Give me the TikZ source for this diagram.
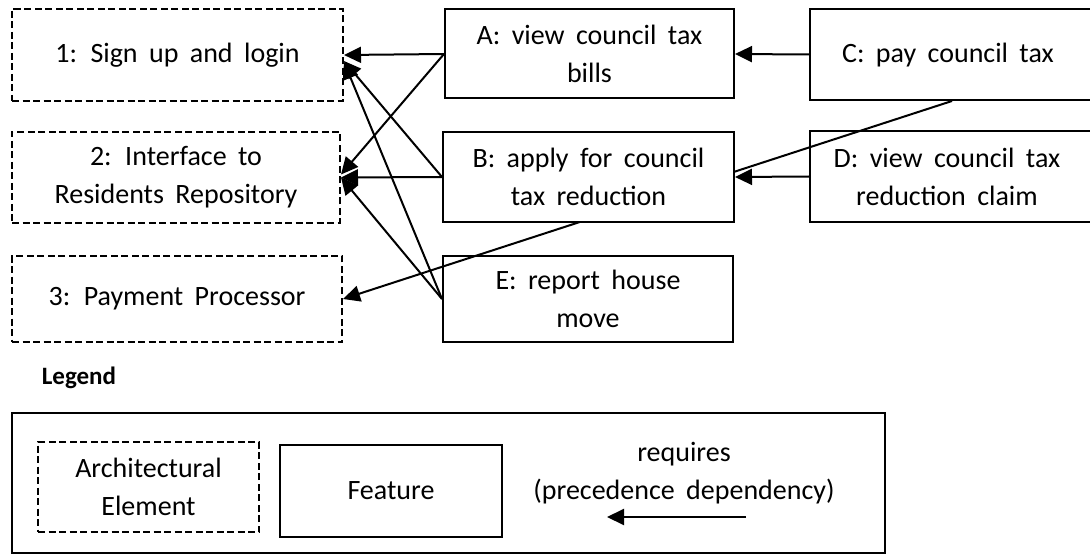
\documentclass[tikz,border=0pt]{standalone}
\usepackage{fontspec}
\setmainfont{Carlito}[WordSpace=1.8]
\usetikzlibrary{arrows.meta,backgrounds}
\begin{document}
\begin{tikzpicture}[x=1pt,y=-1pt,
  every node/.style={font=\fontsize{28}{38}\selectfont, align=center, inner sep=0pt},
  arch/.style={draw, line width=2pt, dash pattern=on 7pt off 3.5pt},
  feat/.style={draw, line width=2pt},
  arr/.style={line width=2pt, -{Triangle[length=17pt,width=16pt]}}]
\useasboundingbox (0,0) rectangle (1090,556);
% architectural elements
\node[arch, minimum width=331pt, minimum height=92pt] (n1) at (177.5,55) {1: Sign up and login};
\node[arch, minimum width=328pt, minimum height=91pt] (n2) at (176,177.5) {2: Interface to\\Residents Repository};
\node[arch, minimum width=330pt, minimum height=86pt] (n3) at (177,299) {3: Payment Processor};
% features
\node[feat, minimum width=289pt, minimum height=89pt] (A) at (589.5,54) {A: view council tax\\bills};
\node[feat, fill=white, minimum width=291pt, minimum height=90pt] (B) at (588.5,177) {B: apply for council\\tax reduction};
\node[feat, minimum width=290pt, minimum height=91pt] (C) at (955,54.5) {};
\node (Ct) at (948,55) {C: pay council tax};
\node[feat, minimum width=290pt, minimum height=91pt] (D) at (955,176.5) {};
\node (Dt) at (947,177) {D: view council tax\\reduction claim};
\node[feat, minimum width=290pt, minimum height=86pt] (E) at (588,299) {E: report house\\move};
% dependencies
\begin{scope}[on background layer]
  \draw[arr] ([xshift=-3pt]C.south) -- (n3.east);
\end{scope}
\draw[arr] (A.west) -- (n1.east);
\draw[arr] (B.west) -- ([yshift=-6pt]n1.east);
\draw[arr] (E.west) -- ([yshift=-7pt]n1.east);
\draw[arr] (A.west) -- ([yshift=3pt]n2.east);
\draw[arr] (B.west) -- (n2.east);
\draw[arr] (E.west) -- (n2.east);
\draw[arr] (C.west) -- (A.east);
\draw[arr] (D.west) -- (B.east);
% legend
\node[font=\fontsize{25}{30}\selectfont\bfseries] (leg) at (79,378) {Legend};
\node[feat, minimum width=873pt, minimum height=140pt] (lbox) at (448.5,483) {};
\node[arch, minimum width=221pt, minimum height=90pt] (la) at (148.5,487) {Architectural\\Element};
\node[feat, minimum width=222pt, minimum height=92pt] (lf) at (391,491) {Feature};
\node (lr) at (684,473) {requires\\(precedence dependency)};
\coordinate (ls) at (746,517);
\coordinate (le) at (607,517);
\draw[arr] (ls) -- (le);
\end{tikzpicture}
\end{document}
